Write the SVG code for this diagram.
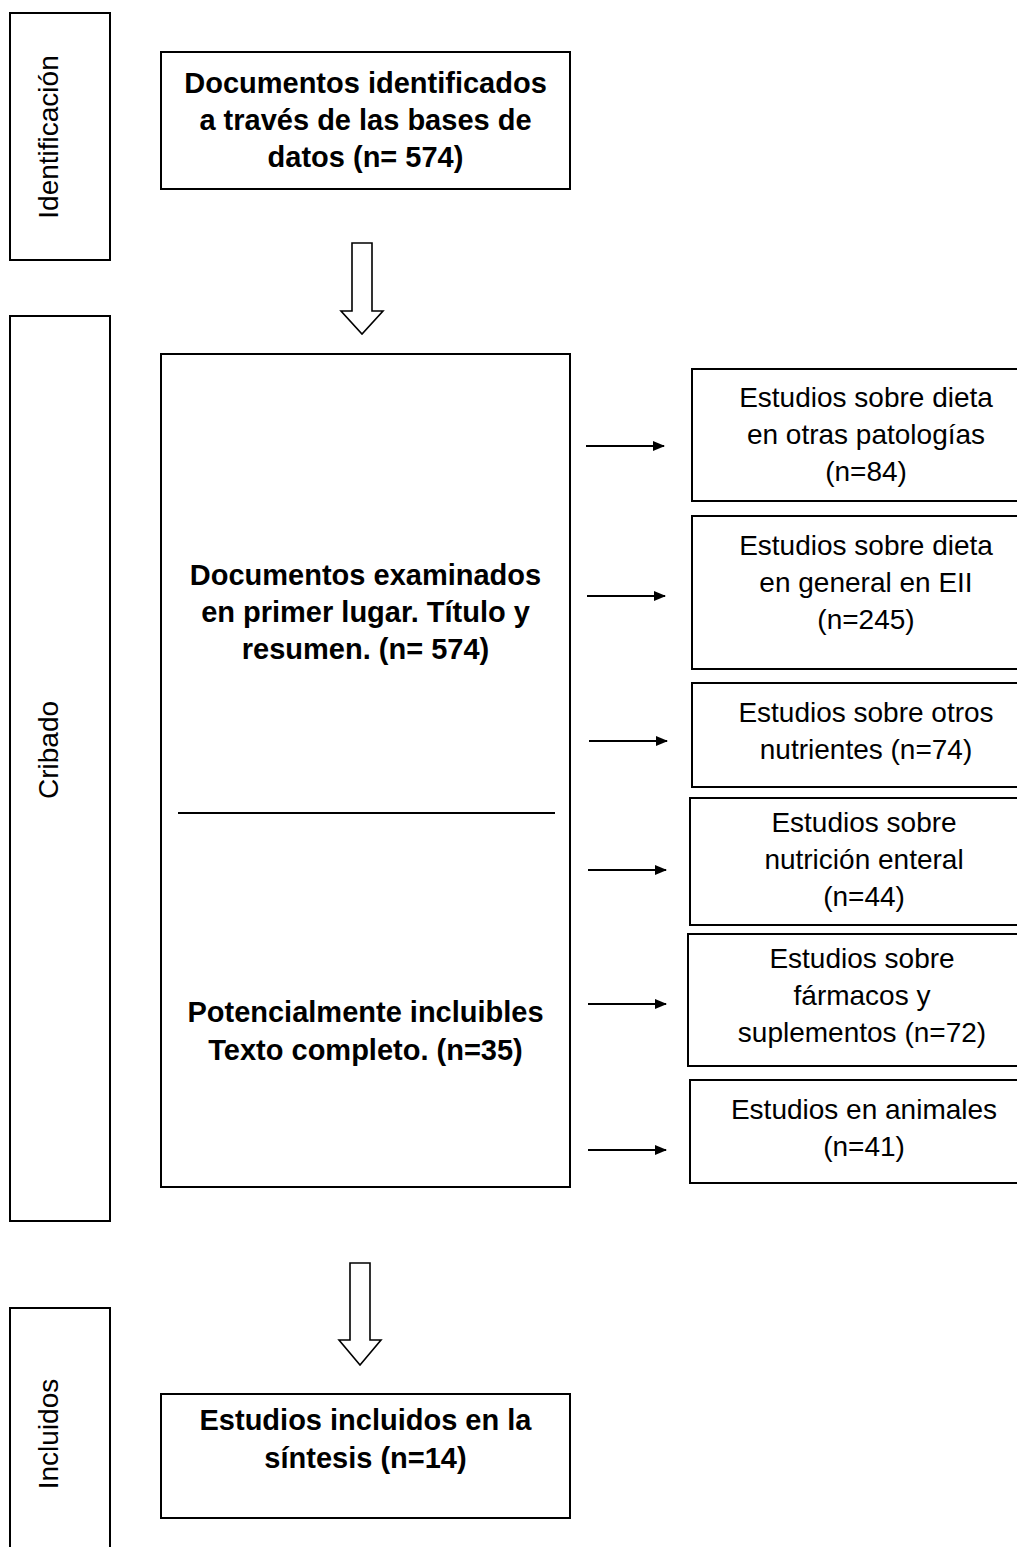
<svg xmlns="http://www.w3.org/2000/svg" width="1017" height="1547" viewBox="0 0 1017 1547">
<defs>
<style>
.box{fill:#fff;stroke:#000;stroke-width:2}
.t{font-family:"Liberation Sans",Arial,sans-serif;font-size:28px;fill:#000;text-anchor:middle}
.b{font-family:"Liberation Sans",Arial,sans-serif;font-size:29px;font-weight:bold;fill:#000;text-anchor:middle}
.big{fill:#fff;stroke:#000;stroke-width:1.6;stroke-linejoin:miter}
.arr{stroke:#000;stroke-width:2.2;fill:none}
</style>
<marker id="ah" markerWidth="12" markerHeight="10" refX="11" refY="5" orient="auto" markerUnits="userSpaceOnUse">
<path d="M0,0 L12,5 L0,10 Z" fill="#000"/>
</marker>
</defs>
<rect width="1017" height="1547" fill="#fff"/>

<g id="phase-identificacion">
<rect class="box" x="10" y="13" width="100" height="247"/>
<text class="t" transform="translate(58,137) rotate(-90)">Identificación</text>
</g>
<g id="phase-cribado">
<rect class="box" x="10" y="316" width="100" height="905"/>
<text class="t" transform="translate(58,750) rotate(-90)">Cribado</text>
</g>
<g id="phase-incluidos">
<rect class="box" x="10" y="1308" width="100" height="260"/>
<text class="t" transform="translate(58,1434) rotate(-90)">Incluidos</text>
</g>

<g id="node-identificados">
<rect class="box" x="161" y="52" width="409" height="137"/>
<text class="b" x="365.5" y="93">Documentos identificados</text>
<text class="b" x="365.5" y="130">a través de las bases de</text>
<text class="b" x="365.5" y="167">datos (n= 574)</text>
</g>

<g id="node-examinados">
<rect class="box" x="161" y="354" width="409" height="833"/>
<text class="b" x="365.5" y="585">Documentos examinados</text>
<text class="b" x="365.5" y="622">en primer lugar. Título y</text>
<text class="b" x="365.5" y="659">resumen. (n= 574)</text>
<line x1="178" y1="813" x2="555" y2="813" stroke="#000" stroke-width="2"/>
<text class="b" x="365.5" y="1022">Potencialmente incluibles</text>
<text class="b" x="365.5" y="1060">Texto completo. (n=35)</text>
</g>

<g id="node-incluidos">
<rect class="box" x="161" y="1394" width="409" height="124"/>
<text class="b" x="365.5" y="1430">Estudios incluidos en la</text>
<text class="b" x="365.5" y="1468">síntesis (n=14)</text>
</g>

<g id="node-otras-patologias">
<rect class="box" x="692" y="369" width="340" height="132"/>
<text class="t" x="866" y="407">Estudios sobre dieta</text>
<text class="t" x="866" y="444">en otras patologías</text>
<text class="t" x="866" y="481">(n=84)</text>
</g>
<g id="node-dieta-general">
<rect class="box" x="692" y="516" width="340" height="153"/>
<text class="t" x="866" y="555">Estudios sobre dieta</text>
<text class="t" x="866" y="592">en general en EII</text>
<text class="t" x="866" y="629">(n=245)</text>
</g>
<g id="node-otros-nutrientes">
<rect class="box" x="692" y="683" width="340" height="104"/>
<text class="t" x="866" y="722">Estudios sobre otros</text>
<text class="t" x="866" y="759">nutrientes  (n=74)</text>
</g>
<g id="node-nutricion-enteral">
<rect class="box" x="690" y="798" width="342" height="127"/>
<text class="t" x="864" y="832">Estudios sobre</text>
<text class="t" x="864" y="869">nutrición enteral</text>
<text class="t" x="864" y="906">(n=44)</text>
</g>
<g id="node-farmacos">
<rect class="box" x="688" y="934" width="344" height="132"/>
<text class="t" x="862" y="968">Estudios sobre</text>
<text class="t" x="862" y="1005">fármacos y</text>
<text class="t" x="862" y="1042">suplementos (n=72)</text>
</g>
<g id="node-animales">
<rect class="box" x="690" y="1080" width="342" height="103"/>
<text class="t" x="864" y="1119">Estudios en animales</text>
<text class="t" x="864" y="1156">(n=41)</text>
</g>

<g id="connectors">
<path class="big" d="M352,243 L372,243 L372,311 L383,311 L362,334 L341,311 L352,311 Z"/>
<path class="big" d="M350,1263 L370,1263 L370,1340 L381,1340 L360,1365 L339,1340 L350,1340 Z"/>
<line class="arr" x1="586" y1="446" x2="664" y2="446" marker-end="url(#ah)"/>
<line class="arr" x1="587" y1="596" x2="665" y2="596" marker-end="url(#ah)"/>
<line class="arr" x1="589" y1="741" x2="667" y2="741" marker-end="url(#ah)"/>
<line class="arr" x1="588" y1="870" x2="666" y2="870" marker-end="url(#ah)"/>
<line class="arr" x1="588" y1="1004" x2="666" y2="1004" marker-end="url(#ah)"/>
<line class="arr" x1="588" y1="1150" x2="666" y2="1150" marker-end="url(#ah)"/>
</g>
</svg>
